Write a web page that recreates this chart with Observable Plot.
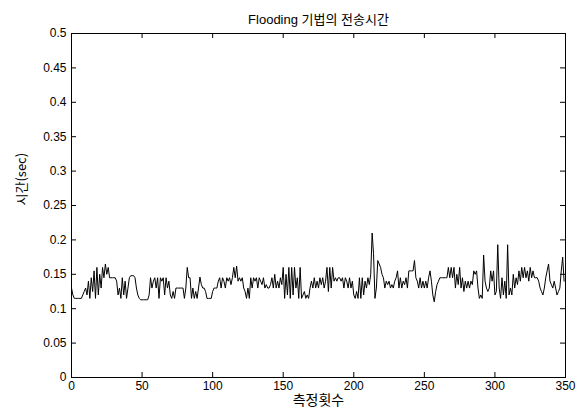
<!DOCTYPE html>
<html>
<head>
<meta charset="utf-8">
<script src="https://cdn.jsdelivr.net/npm/d3@7"></script>
<script src="https://cdn.jsdelivr.net/npm/@observablehq/plot@0.6"></script>
<style>
  html, body { margin: 0; padding: 0; background: #fff; }
  #chart { width: 582px; height: 417px; }
</style>
</head>
<body>
<div id="chart"></div>
<script>
const titleText = "Flooding 기법의 전송시간";
const xLabel = "측정횟수";
const yLabel = "시간(sec)";
const xTicks = [0, 50, 100, 150, 200, 250, 300, 350];
const yTicks = [0, 0.05, 0.1, 0.15, 0.2, 0.25, 0.3, 0.35, 0.4, 0.45, 0.5];
const yTickLabels = ["0", "0.05", "0.1", "0.15", "0.2", "0.25", "0.3", "0.35", "0.4", "0.45", "0.5"];

// transmission time per measurement (sec), measurement index 0..349
const times = [
  0.13, 0.12, 0.115, 0.115, 0.115, 0.115, 0.115, 0.115, 0.12, 0.125,
  0.13, 0.12, 0.14, 0.115, 0.145, 0.125, 0.155, 0.115, 0.16, 0.12,
  0.15, 0.13, 0.16, 0.145, 0.165, 0.15, 0.16, 0.145, 0.145, 0.145,
  0.145, 0.145, 0.14, 0.12, 0.13, 0.115, 0.145, 0.12, 0.14, 0.115,
  0.13, 0.145, 0.148, 0.148, 0.148, 0.145, 0.13, 0.12, 0.115, 0.113,
  0.113, 0.113, 0.113, 0.113, 0.113, 0.12, 0.145, 0.13, 0.14, 0.145,
  0.13, 0.145, 0.115, 0.145, 0.14, 0.145, 0.12, 0.145, 0.13, 0.14,
  0.12, 0.115, 0.125, 0.115, 0.13, 0.13, 0.13, 0.13, 0.13, 0.13,
  0.115, 0.13, 0.16, 0.145, 0.145, 0.115, 0.13, 0.115, 0.125, 0.115,
  0.13, 0.146, 0.135, 0.13, 0.13, 0.125, 0.115, 0.115, 0.115, 0.115,
  0.125, 0.13, 0.13, 0.13, 0.14, 0.145, 0.13, 0.145, 0.14, 0.13,
  0.145, 0.14, 0.145, 0.135, 0.145, 0.16, 0.145, 0.162, 0.14, 0.145,
  0.14, 0.145, 0.13, 0.125, 0.115, 0.13, 0.115, 0.145, 0.13, 0.145,
  0.14, 0.145, 0.13, 0.145, 0.14, 0.135, 0.145, 0.13, 0.135, 0.13,
  0.13, 0.135, 0.145, 0.13, 0.15, 0.13, 0.14, 0.13, 0.145, 0.135,
  0.16, 0.115, 0.15, 0.12, 0.16, 0.115, 0.16, 0.12, 0.16, 0.13,
  0.145, 0.115, 0.16, 0.115, 0.12, 0.125, 0.115, 0.12, 0.115, 0.13,
  0.14, 0.13, 0.145, 0.13, 0.14, 0.13, 0.145, 0.135, 0.145, 0.13,
  0.14, 0.16, 0.125, 0.16, 0.13, 0.16, 0.14, 0.145, 0.14, 0.145,
  0.145, 0.14, 0.145, 0.13, 0.145, 0.14, 0.13, 0.145, 0.13, 0.14,
  0.12, 0.115, 0.125, 0.115, 0.145, 0.115, 0.145, 0.12, 0.14, 0.13,
  0.145, 0.135, 0.15, 0.21, 0.18, 0.115, 0.13, 0.17, 0.165, 0.16,
  0.15, 0.145, 0.13, 0.14, 0.135, 0.14, 0.13, 0.135, 0.13, 0.14,
  0.145, 0.155, 0.13, 0.145, 0.13, 0.14, 0.135, 0.145, 0.13, 0.155,
  0.155, 0.155, 0.155, 0.17, 0.145, 0.14, 0.13, 0.145, 0.13, 0.14,
  0.13, 0.14, 0.13, 0.145, 0.155, 0.14, 0.12, 0.11, 0.125, 0.135,
  0.14, 0.145, 0.145, 0.145, 0.145, 0.145, 0.145, 0.16, 0.145, 0.16,
  0.145, 0.16, 0.13, 0.15, 0.135, 0.16, 0.13, 0.145, 0.125, 0.14,
  0.13, 0.14, 0.13, 0.14, 0.135, 0.155, 0.15, 0.155, 0.13, 0.115,
  0.12, 0.115, 0.178, 0.14, 0.13, 0.125, 0.13, 0.155, 0.14, 0.155,
  0.12, 0.125, 0.193, 0.13, 0.115, 0.145, 0.12, 0.14, 0.115, 0.193,
  0.12, 0.13, 0.12, 0.15, 0.13, 0.145, 0.135, 0.155, 0.14, 0.16,
  0.145, 0.16, 0.145, 0.155, 0.14, 0.16, 0.145, 0.155, 0.145, 0.145,
  0.145, 0.14, 0.13, 0.125, 0.12, 0.13, 0.145, 0.155, 0.165, 0.14,
  0.135, 0.13, 0.14, 0.13, 0.12, 0.125, 0.13, 0.155, 0.175, 0.14
];

const data = times.map((v, i) => ({x: i, y: v}));
const labelMap = new Map(yTicks.map((t, i) => [t, yTickLabels[i]]));

const W = 582, H = 417;
const mTop = 33, mBottom = 40, mLeft = 71, mRight = 17;
const innerH = H - mTop - mBottom;
const innerW = W - mLeft - mRight;
const tick = 5;
const font = "Arial, 'Liberation Sans', 'Noto Sans CJK KR', sans-serif";

const chart = Plot.plot({
  width: W,
  height: H,
  marginTop: mTop,
  marginBottom: mBottom,
  marginLeft: mLeft,
  marginRight: mRight,
  style: {fontFamily: font, fontSize: "12px", background: "#fff", color: "#000"},
  x: {domain: [0, 350], ticks: xTicks, label: null},
  y: {domain: [0, 0.5], ticks: yTicks, label: null},
  marks: [
    Plot.line(data, {x: "x", y: "y", stroke: "#000", strokeWidth: 1}),
    Plot.frame({stroke: "#000", strokeWidth: 1}),
    // inward ticks on all four sides
    Plot.ruleX(xTicks, {x: d => d, insetTop: innerH - tick, stroke: "#000"}),
    Plot.ruleX(xTicks, {x: d => d, insetBottom: innerH - tick, stroke: "#000"}),
    Plot.ruleY(yTicks, {y: d => d, insetRight: innerW - tick, stroke: "#000"}),
    Plot.ruleY(yTicks, {y: d => d, insetLeft: innerW - tick, stroke: "#000"}),
    Plot.axisX({ticks: xTicks, tickSize: 0, tickPadding: 4, label: null, fontSize: 12}),
    Plot.axisY({ticks: yTicks, tickSize: 0, tickPadding: 5, label: null, fontSize: 12,
                tickFormat: d => labelMap.get(d)}),
    Plot.text([titleText], {frameAnchor: "top", dy: -19, fontSize: 13, text: d => d,
                fontFamily: "Arial, 'Noto Sans CJK KR', sans-serif"}),
    Plot.text([xLabel], {frameAnchor: "bottom", dy: 27, fontSize: 14, text: d => d,
                fontFamily: "'Noto Sans CJK KR', sans-serif"}),
    Plot.text([yLabel], {frameAnchor: "left", dx: -50, rotate: -90, fontSize: 13, text: d => d,
                fontFamily: "'Noto Sans CJK KR', sans-serif"})
  ]
});
document.getElementById("chart").appendChild(chart);
</script>
</body>
</html>
